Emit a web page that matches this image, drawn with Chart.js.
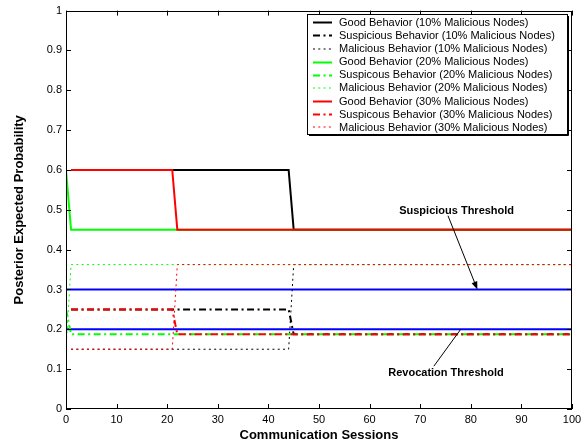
<!DOCTYPE html>
<html>
<head>
<meta charset="utf-8">
<script src="https://cdn.jsdelivr.net/npm/chart.js@4/dist/chart.umd.min.js"></script>
<style>
  html, body { margin: 0; padding: 0; background: #fff; }
  #wrap { width: 586px; height: 444px; }
</style>
</head>
<body>
<div id="wrap"><canvas id="c" width="586" height="444"></canvas></div>
<script>
// Vertices of each behaviour curve (session number, posterior expected probability)
const sessions10 = [1, 44, 45, 100];
const good10 = [0.6, 0.6, 0.45, 0.45];
const susp10 = [0.25, 0.25, 0.1875, 0.1875];
const mal10 = [0.15, 0.15, 0.3625, 0.3625];

const sessions20 = [0, 1, 100];
const good20 = [0.6, 0.45, 0.45];
const susp20 = [0.25, 0.1875, 0.1875];
const mal20 = [0.15, 0.3625, 0.3625];

const sessions30 = [1, 21, 22, 100];
const good30 = [0.6, 0.6, 0.45, 0.45];
const susp30 = [0.25, 0.25, 0.1875, 0.1875];
const mal30 = [0.15, 0.15, 0.3625, 0.3625];

// Threshold levels spanning the whole session range
const thresholdSessions = [0, 100];
const suspiciousThreshold = 0.3;
const revocationThreshold = 0.2;

const xTicks = [0, 10, 20, 30, 40, 50, 60, 70, 80, 90, 100];
const yTicks = [0, 0.1, 0.2, 0.3, 0.4, 0.5, 0.6, 0.7, 0.8, 0.9, 1];

const labels = [
  'Good Behavior (10% Malicious Nodes)',
  'Suspicious Behavior (10% Malicious Nodes)',
  'Malicious Behavior (10% Malicious Nodes)',
  'Good Behavior (20% Malicious Nodes)',
  'Suspicous Behavior (20% Malicious Nodes)',
  'Malicious Behavior (20% Malicious Nodes)',
  'Good Behavior (30% Malicious Nodes)',
  'Suspicous Behavior (30% Malicious Nodes)',
  'Malicious Behavior (30% Malicious Nodes)'
];

const pts = (xs, ys) => xs.map((x, i) => ({ x: x, y: ys[i] }));

const DASHDOT = [7, 3.5, 2, 3.5];
const DOT = [2, 3.3];

function styleFor(kind, color) {
  if (kind === 'good') return { borderColor: color, borderWidth: 2, borderDash: [] };
  if (kind === 'susp') return { borderColor: color, borderWidth: 2, borderDash: DASHDOT };
  return { borderColor: color, borderWidth: 1, borderDash: DOT };
}

const groups = [
  { xs: sessions10, color: '#000000', series: [['good', good10], ['susp', susp10], ['mal', mal10]] },
  { xs: sessions20, color: '#00ff00', series: [['good', good20], ['susp', susp20], ['mal', mal20]] },
  { xs: sessions30, color: '#ff0000', series: [['good', good30], ['susp', susp30], ['mal', mal30]] }
];

const datasets = [];
let order = 50;
groups.forEach(g => {
  g.series.forEach(([kind, ys]) => {
    const st = styleFor(kind, g.color);
    datasets.push(Object.assign({
      label: labels[datasets.length],
      data: pts(g.xs, ys),
      pointRadius: 0,
      fill: false,
      tension: 0,
      borderCapStyle: 'butt',
      order: order--
    }, st));
  });
});
[suspiciousThreshold, revocationThreshold].forEach(v => {
  datasets.push({
    label: 'threshold',
    data: pts(thresholdSessions, [v, v]),
    borderColor: '#0000ff',
    borderWidth: 2,
    pointRadius: 0,
    fill: false,
    order: 100
  });
});

const FONT = '"Liberation Sans", Arial, Helvetica, sans-serif';

// Axes box, inward ticks, axis titles, annotations and legend
const decor = {
  id: 'decor',
  afterDatasetsDraw(chart) {
    const ctx = chart.ctx;
    const a = chart.chartArea;
    const xs = chart.scales.x, ys = chart.scales.y;
    ctx.save();

    // box
    ctx.strokeStyle = '#000';
    ctx.lineWidth = 1;
    ctx.strokeRect(Math.round(a.left) + 0.5, Math.round(a.top) + 0.5,
                   Math.round(a.right - a.left) - 1, Math.round(a.bottom - a.top) - 1);

    // inward tick marks on all four sides
    const TL = 5;
    ctx.beginPath();
    xTicks.forEach(v => {
      const px = Math.round(xs.getPixelForValue(v)) + 0.5;
      ctx.moveTo(px, a.bottom); ctx.lineTo(px, a.bottom - TL);
      ctx.moveTo(px, a.top); ctx.lineTo(px, a.top + TL);
    });
    yTicks.forEach(v => {
      const py = Math.round(ys.getPixelForValue(v)) + 0.5;
      ctx.moveTo(a.left, py); ctx.lineTo(a.left + TL, py);
      ctx.moveTo(a.right, py); ctx.lineTo(a.right - TL, py);
    });
    ctx.stroke();

    // axis titles
    ctx.fillStyle = '#000';
    ctx.font = 'bold 13px ' + FONT;
    ctx.textAlign = 'center';
    ctx.textBaseline = 'middle';
    ctx.fillText('Communication Sessions', (a.left + a.right) / 2, 435);
    ctx.save();
    ctx.translate(19, (a.top + a.bottom) / 2);
    ctx.rotate(-Math.PI / 2);
    ctx.fillText('Posterior Expected Probability', 0, 0);
    ctx.restore();

    // threshold annotations
    ctx.font = 'bold 11px ' + FONT;
    ctx.fillText('Suspicious Threshold', xs.getPixelForValue(77.2), ys.getPixelForValue(0.4975));
    ctx.fillText('Revocation Threshold', xs.getPixelForValue(75.1), ys.getPixelForValue(0.091));

    // arrow to the suspicious threshold
    const sx = xs.getPixelForValue(75.5), sy = ys.getPixelForValue(0.485);
    const tx = xs.getPixelForValue(81.3), ty = ys.getPixelForValue(suspiciousThreshold);
    const ang = Math.atan2(ty - sy, tx - sx);
    ctx.strokeStyle = '#000';
    ctx.lineWidth = 1;
    ctx.beginPath();
    ctx.moveTo(sx, sy);
    ctx.lineTo(tx - 6 * Math.cos(ang), ty - 6 * Math.sin(ang));
    ctx.stroke();
    ctx.beginPath();
    ctx.moveTo(tx, ty);
    ctx.lineTo(tx - 8 * Math.cos(ang) + 3 * Math.sin(ang), ty - 8 * Math.sin(ang) - 3 * Math.cos(ang));
    ctx.lineTo(tx - 8 * Math.cos(ang) - 3 * Math.sin(ang), ty - 8 * Math.sin(ang) + 3 * Math.cos(ang));
    ctx.closePath();
    ctx.fillStyle = '#000';
    ctx.fill();

    // pointer to the revocation threshold
    ctx.beginPath();
    ctx.moveTo(xs.getPixelForValue(72.7), ys.getPixelForValue(0.1075));
    ctx.lineTo(xs.getPixelForValue(78.0), ys.getPixelForValue(revocationThreshold));
    ctx.stroke();

    // legend
    const L = { x: 307, y: 14, w: 260, h: 120, row: 13.125, first: 22.3 };
    ctx.fillStyle = '#fff';
    ctx.fillRect(L.x, L.y, L.w, L.h);
    ctx.strokeStyle = '#000';
    ctx.lineWidth = 1;
    ctx.strokeRect(L.x + 0.5, L.y + 0.5, L.w, L.h);
    ctx.beginPath();
    ctx.moveTo(L.x + L.w + 1.5, L.y + 2); ctx.lineTo(L.x + L.w + 1.5, L.y + L.h + 1.5);
    ctx.lineTo(L.x + 2, L.y + L.h + 1.5);
    ctx.stroke();

    ctx.font = '11px ' + FONT;
    ctx.textAlign = 'left';
    ctx.textBaseline = 'middle';
    for (let i = 0; i < 9; i++) {
      const ds = chart.data.datasets[i];
      const y = L.first + i * L.row;
      ctx.save();
      ctx.strokeStyle = ds.borderColor;
      ctx.lineWidth = ds.borderWidth;
      ctx.setLineDash(ds.borderDash || []);
      ctx.beginPath();
      ctx.moveTo(313, Math.round(y) + (ds.borderWidth === 1 ? 0 : 0.5));
      ctx.lineTo(332, Math.round(y) + (ds.borderWidth === 1 ? 0 : 0.5));
      ctx.stroke();
      ctx.restore();
      ctx.fillStyle = '#000';
      ctx.fillText(ds.label, 339, y + 0.5);
    }
    ctx.restore();
  }
};

new Chart(document.getElementById('c'), {
  type: 'line',
  data: { datasets: datasets },
  options: {
    responsive: false,
    animation: false,
    devicePixelRatio: 1,
    layout: { padding: { left: 0, top: 9, right: 14, bottom: 0 } },
    plugins: { legend: { display: false }, tooltip: { enabled: false } },
    scales: {
      x: {
        type: 'linear', min: 0, max: 100,
        afterBuildTicks: s => { s.ticks = xTicks.map(v => ({ value: v })); },
        ticks: { font: { family: FONT, size: 11 }, color: '#000', padding: 4, maxRotation: 0 },
        grid: { display: false, drawTicks: false },
        border: { display: false },
        afterFit: s => { s.height = 35; }
      },
      y: {
        type: 'linear', min: 0, max: 1,
        afterBuildTicks: s => { s.ticks = yTicks.map(v => ({ value: v })); },
        ticks: { font: { family: FONT, size: 11 }, color: '#000', padding: 4,
                 callback: v => String(+v.toFixed(1)) },
        grid: { display: false, drawTicks: false },
        border: { display: false },
        afterFit: s => { s.width = 66; }
      }
    }
  },
  plugins: [decor]
});
</script>
</body>
</html>
